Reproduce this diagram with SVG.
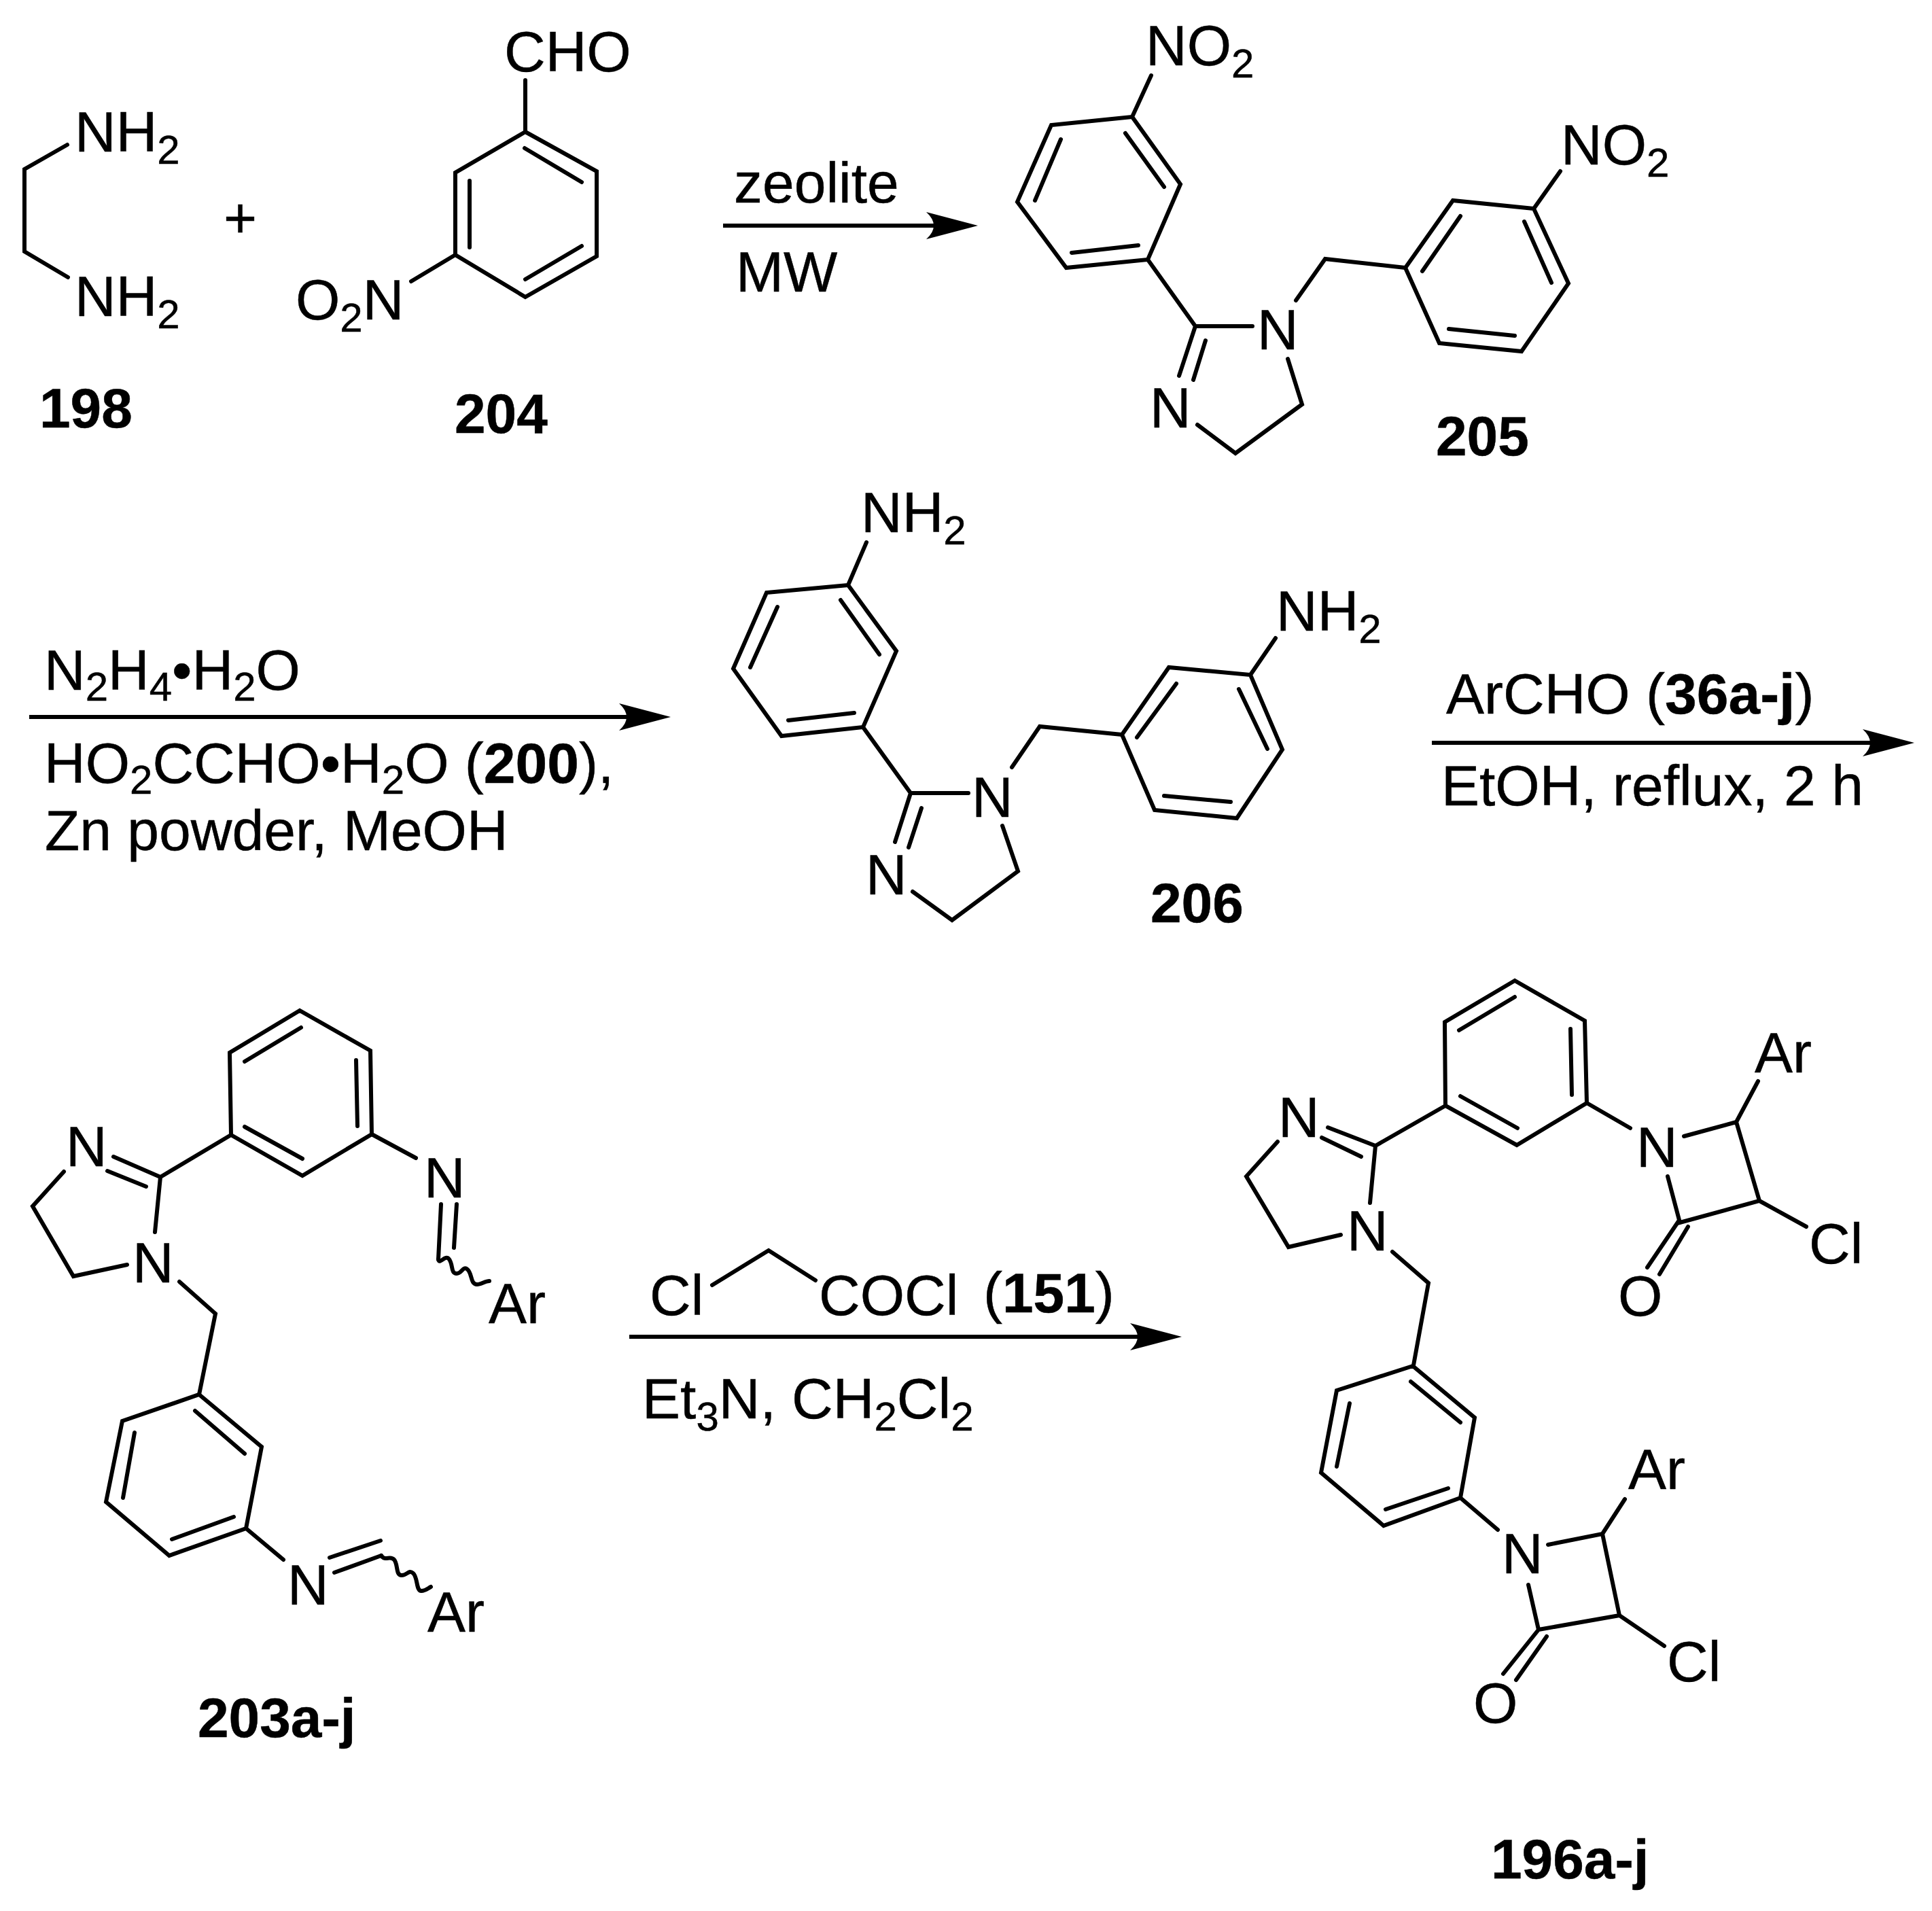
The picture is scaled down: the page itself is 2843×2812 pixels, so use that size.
<svg xmlns="http://www.w3.org/2000/svg" width="2843" height="2812" viewBox="0 0 2843 2812">
<style>
text{font-family:"Liberation Sans",Arial,sans-serif;font-size:84px;fill:#000;stroke:#000;stroke-width:.5}
.s{font-size:60px}
.l{font-weight:700}
.n{font-weight:700;font-size:82px}
.b{fill:none;stroke:#000;stroke-width:6;stroke-linejoin:miter;stroke-linecap:round}
.a{fill:none;stroke:#000;stroke-width:6}
</style>
<defs>
<marker id="head" markerUnits="userSpaceOnUse" markerWidth="80" markerHeight="44" viewBox="0 0 80 44" refX="16" refY="22" orient="auto">
<path d="M0,2 L76,22 L0,42 Q22,22 0,2Z" fill="#000"/>
</marker>
</defs>
<rect width="2843" height="2812" fill="#fff"/>

<g id="connectors">
<line class="a" x1="1064" y1="332" x2="1379" y2="332" marker-end="url(#head)"/>
<line class="a" x1="43" y1="1055" x2="927" y2="1055" marker-end="url(#head)"/>
<line class="a" x1="2107" y1="1093" x2="2757" y2="1093" marker-end="url(#head)"/>
<line class="a" x1="926" y1="1967" x2="1679" y2="1967" marker-end="url(#head)"/>
</g>

<g id="mol-198">
<path class="b" d="M99,213 L36,249 L36,370 L100,408"/>
<text x="110" y="223">NH<tspan class="s" dy="18">2</tspan></text>
<text x="110" y="465">NH<tspan class="s" dy="18">2</tspan></text>
<text class="n" x="58" y="629">198</text>
</g>

<g id="plus"><text x="329" y="349">+</text></g>

<g id="mol-204">
<path class="b" d="M773,194 L878,252 L878,377 L773,437 L670,375 L670,254 Z M773,118 L773,194 M772,218 L856,268 M856,362 L773,411 M691,266 L691,364 M670,375 L605,414"/>
<text x="742" y="105">CHO</text>
<text x="435" y="470">O<tspan class="s" dy="18">2</tspan><tspan dy="-18">N</tspan></text>
<text class="n" x="669" y="637">204</text>
</g>

<g id="reagents-1">
<text x="1080" y="298">zeolite</text>
<text x="1083" y="429">MW</text>
</g>

<g id="mol-205">
<path class="b" d="M1666,172 L1547,184 L1497,297 L1569,394 L1689,382 L1737,271 Z M1656,196 L1713,275 M1561,205 L1523,295 M1577,372 L1675,361 M1666,172 L1694,111 M1689,382 L1759,480 L1843,480 M1759,480 L1735,553 M1774,501 L1756,559 M1762,625 L1818,667 L1916,595 L1895,528 M1907,442 L1950,381 L2068,394"/>
<path class="b" d="M2257,307 L2138,295 L2068,394 L2118,505 L2239,517 L2308,417 Z M2149,318 L2093,399 M2243,326 L2283,416 M2132,484 L2229,494 M2257,307 L2296,252"/>
<text x="1686" y="96">NO<tspan class="s" dy="18">2</tspan></text>
<text x="2297" y="242">NO<tspan class="s" dy="18">2</tspan></text>
<text x="1850" y="514">N</text>
<text x="1692" y="629">N</text>
<text class="n" x="2113" y="670">205</text>
</g>

<g id="reagents-2">
<text x="65" y="1015">N<tspan class="s" dy="16">2</tspan><tspan dy="-16">H</tspan><tspan class="s" dy="16">4</tspan><tspan dy="-16">•H</tspan><tspan class="s" dy="16">2</tspan><tspan dy="-16">O</tspan></text>
<text x="65" y="1152">HO<tspan class="s" dy="16">2</tspan><tspan dy="-16">CCHO•H</tspan><tspan class="s" dy="16">2</tspan><tspan dy="-16">O (</tspan><tspan class="l">200</tspan>),</text>
<text x="66" y="1251">Zn powder, MeOH</text>
</g>

<g id="mol-206">
<path class="b" d="M1248,861 L1128,872 L1079,984 L1150,1083 L1270,1070 L1319,958 Z M1237,883 L1294,963 M1144,893 L1104,982 M1160,1060 L1257,1049 M1248,861 L1275,798 M1270,1070 L1340,1167 L1425,1167 M1340,1167 L1317,1239 M1356,1189 L1337,1247 M1343,1312 L1401,1354 L1498,1282 L1475,1215 M1489,1129 L1530,1069 L1651,1081"/>
<path class="b" d="M1651,1081 L1720,982 L1840,993 L1887,1103 L1820,1204 L1699,1192 Z M1731,1006 L1673,1085 M1823,1014 L1865,1102 M1713,1171 L1811,1180 M1840,993 L1877,939"/>
<text x="1267" y="783">NH<tspan class="s" dy="18">2</tspan></text>
<text x="1878" y="928">NH<tspan class="s" dy="18">2</tspan></text>
<text x="1430" y="1202">N</text>
<text x="1274" y="1316">N</text>
<text class="n" x="1693" y="1357">206</text>
</g>

<g id="reagents-3">
<text x="2128" y="1050">ArCHO (<tspan class="l">36a-j</tspan>)</text>
<text x="2121" y="1185">EtOH, reflux, 2 h</text>
</g>

<g id="mol-203">
<path class="b" d="M441,1487 L338,1549 L340,1670 L445,1730 L547,1669 L545,1546 Z M360,1562 L443,1512 M360,1658 L445,1705 M524,1560 L526,1657 M340,1670 L236,1732 M167,1702 L236,1732 M158,1723 L215,1746 M94,1724 L48,1775 L108,1878 L187,1861 M236,1732 L228,1813 M547,1669 L612,1704 M649,1772 L645,1853 M672,1772 L668,1836 M264,1886 L317,1933 L293,2052"/>
<path class="b" d="M645,1853 C647,1862 655,1845 661,1853 C667,1861 663,1874 672,1874 C680,1874 681,1862 688,1868 C695,1874 692,1890 702,1890 C708,1890 714,1885 720,1885"/>
<path class="b" d="M293,2052 L385,2129 L362,2249 L249,2289 L156,2210 L180,2091 Z M287,2076 L360,2139 M198,2108 L181,2204 M253,2265 L344,2232 M362,2249 L417,2295 M485,2292 L560,2267 M492,2314 L561,2289"/>
<path class="b" d="M561,2289 C567,2298 574,2288 580,2295 C586,2302 582,2318 591,2318 C600,2318 601,2309 608,2315 C615,2321 612,2341 620,2341 C626,2341 630,2337 634,2335"/>
<text x="97" y="1716">N</text>
<text x="195" y="1887">N</text>
<text x="624" y="1762">N</text>
<text x="423" y="2361">N</text>
<text x="719" y="1947">Ar</text>
<text x="629" y="2401">Ar</text>
<text class="n" x="291" y="2556">203a-j</text>
</g>

<g id="reagents-4">
<path class="b" d="M1048,1891 L1131,1840 L1200,1884"/>
<text x="956" y="1935">Cl</text>
<text x="1205" y="1935">COCl</text>
<text x="1447" y="1931">(<tspan class="n">151</tspan>)</text>
<text x="945" y="2087">Et<tspan class="s" dy="18">3</tspan><tspan dy="-18">N, CH</tspan><tspan class="s" dy="18">2</tspan><tspan dy="-18">Cl</tspan><tspan class="s" dy="18">2</tspan></text>
</g>

<g id="mol-196">
<path class="b" d="M2229,1443 L2126,1504 L2127,1627 L2232,1685 L2335,1623 L2332,1502 Z M2147,1516 L2229,1467 M2149,1613 L2233,1660 M2311,1514 L2313,1611 M2127,1627 L2024,1686 M1954,1659 L2024,1686 M1945,1674 L2003,1702 M1880,1680 L1834,1731 L1896,1835 L1973,1817 M2024,1686 L2016,1770 M2049,1842 L2102,1888 L2080,2009"/>
<path class="b" d="M2335,1623 L2399,1660 M2478,1672 L2555,1651 L2589,1767 L2472,1799 L2454,1731 M2555,1651 L2587,1591 M2589,1767 L2658,1805 M2470,1797 L2424,1865 M2484,1805 L2442,1875"/>
<path class="b" d="M2079,2010 L2170,2086 L2149,2204 L2036,2245 L1944,2167 L1967,2046 Z M2076,2033 L2149,2093 M1986,2065 L1967,2158 M2039,2221 L2131,2190 M2149,2204 L2204,2251"/>
<path class="b" d="M2278,2273 L2358,2257 L2383,2377 L2264,2398 L2249,2332 M2358,2257 L2391,2206 M2383,2377 L2449,2422 M2264,2398 L2212,2463 M2276,2408 L2231,2472"/>
<text x="1881" y="1673">N</text>
<text x="1982" y="1840">N</text>
<text x="2408" y="1717">N</text>
<text x="2210" y="2315">N</text>
<text x="2582" y="1578">Ar</text>
<text x="2396" y="2191">Ar</text>
<text x="2662" y="1859">Cl</text>
<text x="2453" y="2474">Cl</text>
<text x="2381" y="1936">O</text>
<text x="2168" y="2535">O</text>
<text class="n" x="2194" y="2764">196a-j</text>
</g>
</svg>
